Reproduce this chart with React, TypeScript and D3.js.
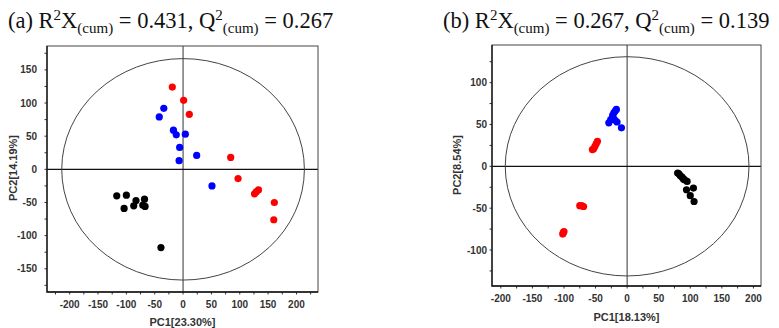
import { useEffect, useRef } from 'react'
import * as d3 from 'd3'

// (a) scores, PC1 / PC2
const aRed = [[-19, 124], [1, 104], [11, 83], [84, 18], [97, -14], [126, -37], [129, -34], [133, -31], [161, -50], [160, -76]]
const aBlue = [[-34, 92], [-42, 79], [-17, 59], [-12, 52], [4, 53], [-6, 33], [-7, 13], [24, 21], [51, -25]]
const aBlack = [[-117, -40], [-100, -39], [-104, -59], [-83, -47], [-87, -55], [-68, -45], [-71, -54], [-67, -56], [-39, -118]]

// (b) scores
const bRed = [[-47, 30], [-49, 27], [-51, 24], [-53, 21], [-55, 20], [-75, -47], [-72, -47], [-69, -48], [-101, -79], [-102, -81], [-100, -78]]
const bBlue = [[-17, 68], [-19, 66], [-21, 64], [-23, 61], [-26, 56], [-29, 52], [-19, 55], [-16, 53], [-9, 46], [-22, 58]]
const bBlack = [[80, -8], [82, -9], [84, -11], [87, -13], [89, -15], [91, -16], [95, -18], [105, -26], [94, -28], [100, -35], [106, -42]]

const xTickLabels = [-200, -150, -100, -50, 0, 50, 100, 150, 200]
const aYTickLabels = [-150, -100, -50, 0, 50, 100, 150]
const bYTickLabels = [-100, -50, 0, 50, 100]

const panels = [
  {
    box: { x0: 47, x1: 318, y0: 46, y1: 292 },
    xDomain: [-240, 238], yDomain: [-185, 186],
    ellipse: [214, 167],
    groups: [{ pts: aRed, color: '#ff0000' }, { pts: aBlue, color: '#0000ff' }, { pts: aBlack, color: '#000000' }],
    yTicks: aYTickLabels, yLabelGap: 10,
    xTitle: 'PC1[23.30%]', xTitleY: 326,
    yTitle: 'PC2[14.19%]', yTitleX: 17, yTitleY: 168,
    title: { x: 8, r2: '0.431', q2: '0.267', label: '(a)' },
  },
  {
    box: { x0: 492, x1: 761, y0: 45, y1: 286 },
    xDomain: [-214, 212], yDomain: [-143, 145],
    ellipse: [193, 131],
    groups: [{ pts: bRed, color: '#ff0000' }, { pts: bBlue, color: '#0000ff' }, { pts: bBlack, color: '#000000' }],
    yTicks: bYTickLabels, yLabelGap: 5,
    xTitle: 'PC1[18.13%]', xTitleY: 321,
    yTitle: 'PC2[8.54%]', yTitleX: 461, yTitleY: 165,
    title: { x: 443, r2: '0.267', q2: '0.139', label: '(b)' },
  },
]

export default function App() {
  const svgRef = useRef<SVGSVGElement>(null)

  useEffect(() => {
    document.body.style.margin = '0'
    const svg = d3.select(svgRef.current)
    svg.selectAll('*').remove()

    panels.forEach(p => {
      const { x0, x1, y0, y1 } = p.box
      const x = d3.scaleLinear().domain(p.xDomain).range([x0, x1])
      const y = d3.scaleLinear().domain(p.yDomain).range([y1, y0])
      const g = svg.append('g')

      // titulo
      const t = g.append('text')
        .attr('x', p.title.x).attr('y', 28)
        .attr('font-family', '"Liberation Serif", "Times New Roman", serif')
        .attr('font-size', 22.5).attr('fill', '#111')
      t.append('tspan').text(p.title.label + ' R')
      t.append('tspan').attr('font-size', 15).attr('dy', -8).text('2')
      t.append('tspan').attr('dy', 8).text('X')
      t.append('tspan').attr('font-size', 15).attr('dy', 5).text('(cum)')
      t.append('tspan').attr('dy', -5).text(` = ${p.title.r2}, Q`)
      t.append('tspan').attr('font-size', 15).attr('dy', -8).text('2')
      t.append('tspan').attr('font-size', 15).attr('dy', 13).text('(cum)')
      t.append('tspan').attr('dy', -5).text(` = ${p.title.q2}`)

      // ticks (minor every 25)
      const minorX = d3.range(Math.ceil(p.xDomain[0] / 25) * 25, p.xDomain[1], 25)
      const minorY = d3.range(Math.ceil(p.yDomain[0] / 25) * 25, p.yDomain[1], 25)
      g.selectAll('.xt').data(minorX).enter().append('line')
        .attr('x1', d => x(d)).attr('x2', d => x(d))
        .attr('y1', y1).attr('y2', y1 + 2.5)
        .attr('stroke', '#333').attr('stroke-width', 1)
      g.selectAll('.yt').data(minorY).enter().append('line')
        .attr('y1', d => y(d)).attr('y2', d => y(d))
        .attr('x1', x0).attr('x2', x0 - 2.5)
        .attr('stroke', '#333').attr('stroke-width', 1)

      g.selectAll('.xl').data(xTickLabels).enter().append('text')
        .attr('x', d => x(d)).attr('y', y1 + 16)
        .attr('text-anchor', 'middle')
        .attr('font-family', '"Liberation Sans", Arial, sans-serif')
        .attr('font-size', 10).attr('font-weight', 'bold').attr('fill', '#333')
        .text(d => d)
      g.selectAll('.yl').data(p.yTicks).enter().append('text')
        .attr('x', x0 - p.yLabelGap).attr('y', d => y(d) + 3.5)
        .attr('text-anchor', 'end')
        .attr('font-family', '"Liberation Sans", Arial, sans-serif')
        .attr('font-size', 10).attr('font-weight', 'bold').attr('fill', '#333')
        .text(d => d)

      // eixos do zero
      g.append('line')
        .attr('x1', x(0)).attr('x2', x(0)).attr('y1', y0).attr('y2', y1)
        .attr('stroke', '#555').attr('stroke-width', 1.2)
      g.append('line')
        .attr('x1', x0).attr('x2', x1).attr('y1', y(0)).attr('y2', y(0))
        .attr('stroke', '#111').attr('stroke-width', 1.2)

      // elipse Hotelling T2
      g.append('ellipse')
        .attr('cx', x(0)).attr('cy', y(0))
        .attr('rx', x(p.ellipse[0]) - x(0)).attr('ry', y(0) - y(p.ellipse[1]))
        .attr('fill', 'none').attr('stroke', '#444').attr('stroke-width', 1)

      // moldura
      g.append('rect')
        .attr('x', x0).attr('y', y0).attr('width', x1 - x0).attr('height', y1 - y0)
        .attr('fill', 'none').attr('stroke', '#444').attr('stroke-width', 1)
      g.append('path')
        .attr('d', `M${x0},${y0}V${y1}H${x1}`)
        .attr('fill', 'none').attr('stroke', '#111').attr('stroke-width', 1.3)

      // pontos
      p.groups.forEach(grp => {
        g.selectAll(null).data(grp.pts).enter().append('circle')
          .attr('cx', d => x(d[0])).attr('cy', d => y(d[1]))
          .attr('r', 3.6).attr('fill', grp.color)
      })

      // titulos dos eixos
      g.append('text')
        .attr('x', (x0 + x1) / 2).attr('y', p.xTitleY)
        .attr('text-anchor', 'middle')
        .attr('font-family', '"Liberation Sans", Arial, sans-serif')
        .attr('font-size', 11).attr('font-weight', 'bold').attr('fill', '#333')
        .text(p.xTitle)
      g.append('text')
        .attr('transform', `translate(${p.yTitleX},${p.yTitleY}) rotate(-90)`)
        .attr('text-anchor', 'middle')
        .attr('font-family', '"Liberation Sans", Arial, sans-serif')
        .attr('font-size', 11).attr('font-weight', 'bold').attr('fill', '#333')
        .text(p.yTitle)
    })
  }, [])

  return (
    <svg ref={svgRef} width={779} height={328} style={{ display: 'block', background: '#fff' }}></svg>
  )
}
